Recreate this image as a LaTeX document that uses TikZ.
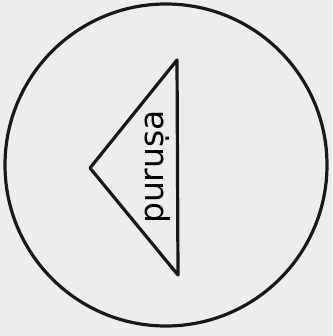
\documentclass[tikz,border=0pt]{standalone}
\usepackage{fontspec}
\setmainfont{DejaVu Sans}
\begin{document}
\begin{tikzpicture}[x=1pt, y=-1pt, every node/.style={font=\fontsize{33}{38}\selectfont}]
  \tikzstyle{outline}=[draw=black!90,line width=3.2pt,line join=round]
  \fill[black!7] (0,0) rectangle (332,336);
  \useasboundingbox (0,0) rectangle (332,336);
  \draw[outline] (166,165) circle (161);
  \coordinate (apex) at (90,168);
  \coordinate (top) at (177,60);
  \coordinate (bot) at (178,275);
  \draw[outline] (apex) -- (top) -- (bot) -- cycle;
  \node[rotate=90,inner sep=0pt] (label) at (158,167) {puruṣa};
\end{tikzpicture}
\end{document}
